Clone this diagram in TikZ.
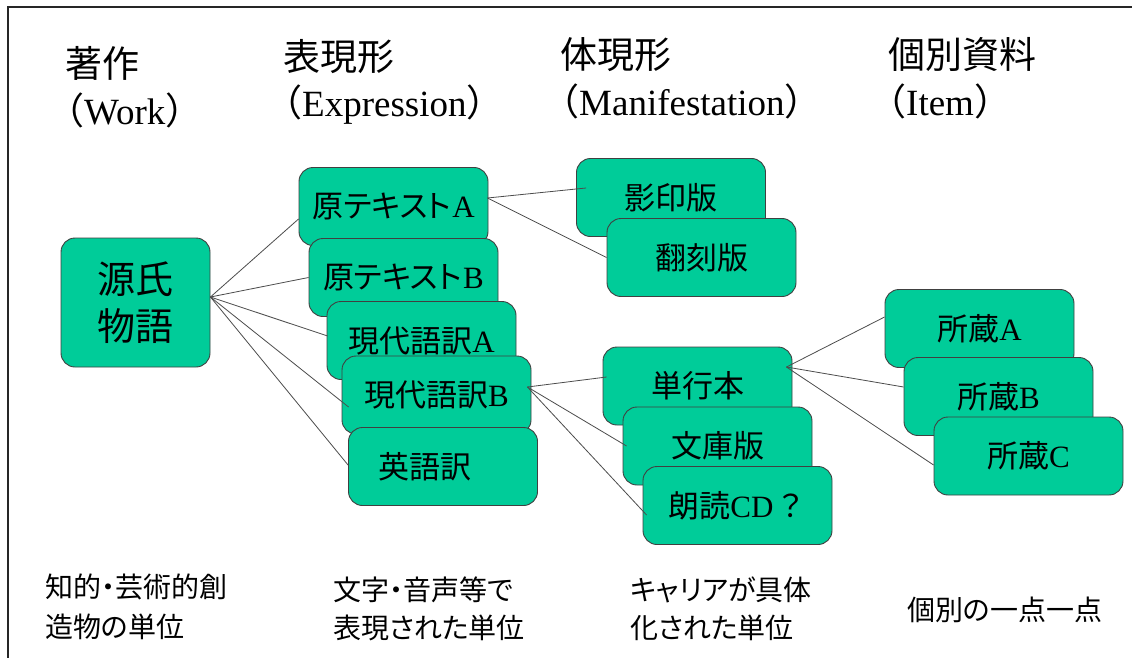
\documentclass[tikz,border=0pt]{standalone}
\usepackage{fontspec}
\setmainfont{Liberation Serif}
\newfontfamily\jp[RawFeature=+palt]{Noto Sans CJK JP}
\newfontfamily\jpf{Noto Sans CJK JP}
\definecolor{boxgreen}{HTML}{00CC99}
\tikzset{
  frbox/.style={draw=black!75, line width=0.9pt, fill=boxgreen, rounded corners=14pt,
    minimum width=189pt, minimum height=78pt, inner sep=0pt, font=\fontsize{31}{37}\selectfont},
  link/.style={draw=black!70, line width=0.8pt},
  title/.style={anchor=west, inner sep=0pt, font=\fontsize{37}{44}\selectfont},
  note/.style={anchor=west, inner sep=0pt, align=left, font=\jp\fontsize{28}{39}\selectfont},
}
\begin{document}
\begin{tikzpicture}[x=1pt,y=-1pt]
\useasboundingbox (0,0) rectangle (1132,658);
\fill[white] (0,0) rectangle (1132,658);
% frame
\draw[line width=2pt, black!85] (8,658) -- (8,7) -- (1132,7);

% titles
\node[title] (t1) at (65,63) {\jpf 著作};
\node[title] (t1e) at (47,110) {{\jpf （}Work{\jpf ）}};
\node[title] (t2) at (283,57) {\jpf 表現形};
\node[title] (t2e) at (265,105) {{\jpf （}Expression{\jpf ）}};
\node[title] (t3) at (560,55) {\jpf 体現形};
\node[title] (t3e) at (542,101) {{\jpf （}Manifestation{\jpf ）}};
\node[title] (t4) at (888,54) {\jpf 個別資料};
\node[title] (t4e) at (869,101) {{\jpf （}Item{\jpf ）}};

% boxes
\node[frbox, minimum width=149pt, minimum height=129pt, align=center,
      font=\jp\fontsize{38}{47.5}\selectfont] (genji) at (135.5,302.5) {源氏\\物語};
\node[frbox] (tA) at (393.5,206.5) {{\jp 原テキスト}\kern1pt A};
\node[frbox] (tB) at (403.5,277.5) {{\jp 原テキスト}\kern1pt B};
\node[frbox] (gA) at (421.5,340.5) {{\jp 現代語訳}A};
\node[frbox] (gB) at (436.5,395) {\raisebox{-7pt}{{\jp 現代語訳}B}};
\node[frbox] (en) at (443,466.5) {{\jp 英語訳}\hspace*{36pt}};
\node[frbox] (ei) at (671,197.5) {\jp 影印版};
\node[frbox] (hon) at (701.5,257.5) {\jp 翻刻版};
\node[frbox] (tan) at (697.5,386) {\jp 単行本};
\node[frbox] (bun) at (717.5,446) {\jp 文庫版};
\node[frbox] (rou) at (737.5,505.5) {{\jp 朗読}CD\kern2pt{\jpf ？}};
\node[frbox] (sA) at (979.5,328.5) {{\jp 所蔵}A};
\node[frbox] (sB) at (998.5,396.5) {{\jp 所蔵}B};
\node[frbox] (sC) at (1028.5,456) {{\jp 所蔵}C};

% connectors
\draw[link] ([yshift=5.5pt]genji.east) -- ([yshift=-12.5pt]tA.west);
\draw[link] ([yshift=5.5pt]genji.east) -- (tB.west);
\draw[link] ([yshift=5.5pt]genji.east) -- ([xshift=1pt,yshift=4.5pt]gA.west);
\draw[link] ([yshift=5.5pt]genji.east) -- ([xshift=7pt,yshift=-12pt]gB.west);
\draw[link] ([yshift=5.5pt]genji.east) -- ([yshift=1.5pt]en.west);
\draw[link] ([xshift=-1pt,yshift=8.5pt]tA.east) -- ([xshift=10pt,yshift=9.5pt]ei.west);
\draw[link] ([xshift=-1pt,yshift=8.5pt]tA.east) -- (hon.west);
\draw[link] ([xshift=-4pt,yshift=8pt]gB.east) -- ([xshift=4pt,yshift=9pt]tan.west);
\draw[link] ([xshift=-4pt,yshift=8pt]gB.east) -- ([xshift=4pt]bun.west);
\draw[link] ([xshift=-4pt,yshift=8pt]gB.east) -- ([xshift=4pt,yshift=-9.5pt]rou.west);
\draw[link] ([xshift=-6pt,yshift=19pt]tan.east) -- ([yshift=11.5pt]sA.west);
\draw[link] ([xshift=-6pt,yshift=19pt]tan.east) -- ([yshift=9.5pt]sB.west);
\draw[link] ([xshift=-6pt,yshift=19pt]tan.east) -- ([yshift=-9pt]sC.west);

% bottom notes
\node[note] (n1a) at (45,587) {知的・芸術的創};
\node[note] (n1b) at (45,627) {造物の単位};
\node[note] (n2a) at (333,590) {文字・音声等で};
\node[note] (n2b) at (333,628) {表現された単位};
\node[note] (n3a) at (630,590) {キャリアが具体};
\node[note] (n3b) at (630,628) {化された単位};
\node[note] (n4) at (907,610) {個別の一点一点};
\end{tikzpicture}
\end{document}
